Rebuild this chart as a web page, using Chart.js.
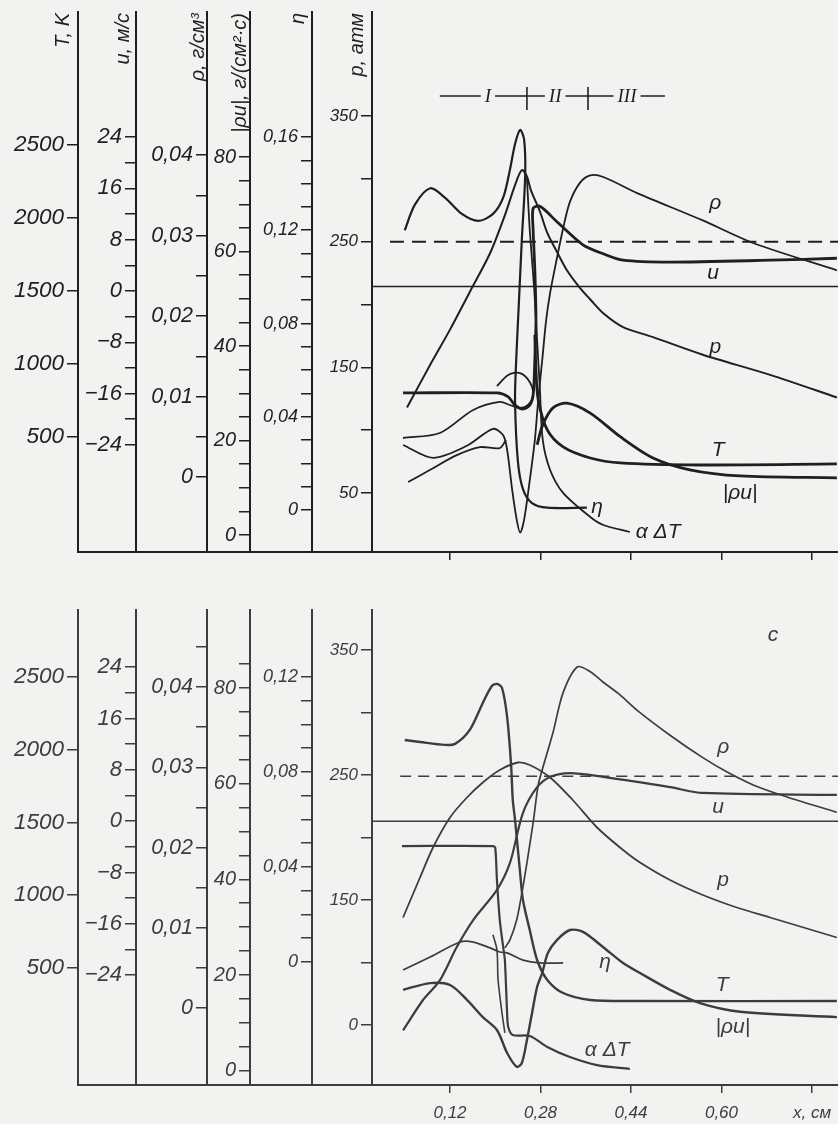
<!DOCTYPE html>
<html>
<head>
<meta charset="utf-8">
<script src="https://cdn.jsdelivr.net/npm/chart.js@4.4.1/dist/chart.umd.min.js"></script>
<style>
  html, body { margin: 0; padding: 0; background: #f2f2f0; }
  #wrap { position: relative; width: 838px; height: 1124px; overflow: hidden; }
  canvas { position: absolute; left: 0; }
  #top { top: 0; }
  #bottom { top: 575px; }
</style>
</head>
<body>
<div id="wrap">
  <canvas id="top" width="838" height="575"></canvas>
  <canvas id="bottom" width="838" height="549"></canvas>
</div>
<script>
// x axis (x, cm)
const xTicks = [0.12, 0.28, 0.44, 0.60, 0.76];
const xTickLabels = ['0,12', '0,28', '0,44', '0,60', 'x, см'];

// left axes ticks
const tTicks = [500, 1000, 1500, 2000, 2500];
const uTicks = [-24, -20, -16, -12, -8, -4, 0, 4, 8, 12, 16, 20, 24];
const uLabeled = [-24, -16, -8, 0, 8, 16, 24];
const rhoTicksTop = [0, 0.005, 0.01, 0.015, 0.02, 0.025, 0.03, 0.035, 0.04];
const rhoTicksBot = [0, 0.005, 0.01, 0.015, 0.02, 0.025, 0.03, 0.035, 0.04, 0.045];
const rhoLabeled = [0, 0.01, 0.02, 0.03, 0.04];
const ruTicksTop = [0, 5, 10, 15, 20, 25, 30, 35, 40, 45, 50, 55, 60, 65, 70, 75, 80];
const ruTicksBot = [0, 5, 10, 15, 20, 25, 30, 35, 40, 45, 50, 55, 60, 65, 70, 75, 80, 85];
const ruLabeled = [0, 20, 40, 60, 80];
const etaTicksTop = [0, 0.01, 0.02, 0.03, 0.04, 0.05, 0.06, 0.07, 0.08, 0.09, 0.10, 0.11, 0.12, 0.13, 0.14, 0.15, 0.16];
const etaTicksBot = [0, 0.01, 0.02, 0.03, 0.04, 0.05, 0.06, 0.07, 0.08, 0.09, 0.10, 0.11, 0.12];
const etaLabeledTop = [0, 0.04, 0.08, 0.12, 0.16];
const etaLabeledBot = [0, 0.04, 0.08, 0.12];
const pTicks = [50, 100, 150, 200, 250, 300, 350];
const pLabeled = [50, 150, 250, 350];
const pLabelsTop = ['50', '150', '250', '350'];
const pLabelsBot = ['0', '150', '250', '350'];

// upper panel curves [x, value on own axis]
const topEta = [[0.040,0.120],[0.058,0.131],[0.085,0.138],[0.111,0.134],[0.141,0.127],[0.170,0.124],[0.196,0.127],[0.214,0.134],[0.226,0.146],[0.235,0.157],[0.244,0.163],[0.251,0.159],[0.253,0.144],[0.247,0.116],[0.242,0.090],[0.237,0.064],[0.235,0.047],[0.240,0.021],[0.249,0.009],[0.265,0.003],[0.292,0.001],[0.362,0.001]];
const topP = [[0.044,118],[0.085,152],[0.120,180],[0.155,210],[0.191,241],[0.217,271],[0.235,295],[0.247,307],[0.256,302],[0.263,291],[0.279,274],[0.292,257],[0.309,242],[0.327,227],[0.350,213],[0.368,204],[0.391,193],[0.426,182],[0.479,174],[0.567,160],[0.686,144],[0.804,126]];
const topU = [[0.037,-15.9],[0.203,-15.9],[0.223,-16.5],[0.235,-17.8],[0.249,-18.4],[0.261,-17.8],[0.267,-16.2],[0.270,-10.7],[0.272,-4.5],[0.270,3.3],[0.267,9.5],[0.267,12.9],[0.279,13.2],[0.309,10.8],[0.355,7.2],[0.391,5.8],[0.426,4.8],[0.509,4.5],[0.686,4.8],[0.804,5.1]];
const topDT = [[0.256,2274],[0.261,1918],[0.269,1507],[0.274,1164],[0.279,822],[0.284,480],[0.297,274],[0.320,117],[0.368,-48],[0.391,-103],[0.438,-151]];
const topTLeft = [[0.037,493],[0.102,527],[0.161,685],[0.208,740],[0.226,719],[0.244,699],[0.258,719],[0.267,788],[0.261,877],[0.244,938],[0.223,925],[0.203,849]];
const topTRight = [[0.270,1199],[0.272,959],[0.276,754],[0.292,548],[0.320,432],[0.368,356],[0.421,322],[0.562,308],[0.804,315]];
const topRULeft = [[0.046,11.2],[0.085,13.8],[0.132,16.9],[0.173,18.6],[0.208,18.4],[0.219,20.1]];
const topRURight = [[0.274,19.1],[0.284,23.3],[0.302,26.9],[0.327,27.9],[0.368,25.8],[0.421,20.8],[0.479,16.3],[0.544,13.8],[0.633,12.5],[0.804,12.1]];
const topRho = [[0.037,0.0040],[0.090,0.0024],[0.150,0.0039],[0.196,0.0060],[0.214,0.0052],[0.221,0.0034],[0.230,-0.0016],[0.238,-0.0053],[0.244,-0.0069],[0.251,-0.0053],[0.261,-0.0004],[0.270,0.0046],[0.276,0.0096],[0.283,0.0145],[0.290,0.0195],[0.297,0.0229],[0.309,0.0272],[0.320,0.0309],[0.332,0.0342],[0.350,0.0366],[0.368,0.0375],[0.391,0.0373],[0.451,0.0353],[0.567,0.0319],[0.656,0.0291],[0.804,0.0257]];
const topDashP = [[0.014,250],[0.806,250]];
const topZeroU = [[-0.018,0.7],[0.806,0.7]];

// lower panel curves
const botT = [[0.040,2067],[0.067,2053],[0.111,2033],[0.129,2040],[0.155,2136],[0.178,2321],[0.194,2438],[0.203,2452],[0.212,2424],[0.221,2225],[0.228,1895],[0.231,1655],[0.235,1517],[0.244,1153],[0.249,967],[0.261,761],[0.274,555],[0.292,418],[0.320,328],[0.368,280],[0.456,273],[0.804,273]];
const botDT = [[0.035,1338],[0.196,1338],[0.200,1325],[0.203,1105],[0.208,830],[0.214,644],[0.217,555],[0.221,191],[0.223,95],[0.231,39],[0.261,33],[0.292,-43],[0.332,-112],[0.380,-167],[0.438,-194]];
const botP = [[0.037,136],[0.067,168],[0.090,192],[0.120,216],[0.150,232],[0.178,244],[0.208,254],[0.240,260],[0.261,258],[0.297,248],[0.337,230],[0.380,208],[0.426,190],[0.456,180],[0.509,166],[0.567,154],[0.627,144],[0.686,136],[0.804,120]];
const botEta = [[0.037,-0.0034],[0.085,0.0021],[0.138,0.0084],[0.161,0.0084],[0.191,0.0059],[0.208,0.0042],[0.221,0.0038],[0.249,0.0008],[0.279,-0.0004],[0.320,-0.0004]];
const botRho = [[0.217,0.0075],[0.226,0.0085],[0.238,0.0110],[0.247,0.0143],[0.256,0.0181],[0.267,0.0231],[0.276,0.0278],[0.284,0.0299],[0.302,0.0343],[0.320,0.0393],[0.345,0.0425],[0.368,0.0419],[0.391,0.0406],[0.421,0.0390],[0.451,0.0371],[0.509,0.0340],[0.567,0.0312],[0.610,0.0294],[0.656,0.0278],[0.716,0.0263],[0.804,0.0244]];
const botU = [[0.037,-32.6],[0.072,-27.9],[0.102,-24.8],[0.132,-19.6],[0.161,-15.4],[0.203,-10.7],[0.226,-6.5],[0.249,1.3],[0.274,5.3],[0.297,6.9],[0.332,7.5],[0.391,6.9],[0.509,5.3],[0.567,4.4],[0.804,4.1]];
const botRUStub = [[0.196,28.4],[0.203,25.2],[0.205,19.0],[0.212,12.0],[0.217,7.9]];
const botRU = [[0.037,16.9],[0.085,18.3],[0.120,17.9],[0.150,14.8],[0.178,11.2],[0.203,8.5],[0.221,3.7],[0.238,0.8],[0.247,1.6],[0.256,6.4],[0.265,12.0],[0.274,17.5],[0.283,20.4],[0.293,24.6],[0.309,27.3],[0.332,29.4],[0.355,29.0],[0.391,25.8],[0.426,22.5],[0.456,20.4],[0.509,16.9],[0.562,14.1],[0.633,12.3],[0.804,11.2]];
const botDashP = [[0.032,249],[0.806,249]];
const botZeroU = [[-0.018,0],[0.806,0]];

// region marks above the upper panel
const regionNames = ['I', 'II', 'III'];
const regionCenters = [0.187, 0.306, 0.433];
const regionBounds = [0.256, 0.364];

const FONT = '"Liberation Sans", "DejaVu Sans", sans-serif';
const BG = '#f2f2f0';

function fmt(v) {
  return (Math.round(v * 1000) / 1000).toString().replace('.', ',').replace('-', '\u2212');
}

function yAxis(o) {
  return {
    type: 'linear', position: 'left', weight: o.weight, min: o.min, max: o.max,
    afterFit: s => { s.width = o.width; s.paddingTop = 0; s.paddingBottom = 0; },
    afterBuildTicks: s => { s.ticks = o.ticks.map(v => ({ value: v })); },
    grid: { drawOnChartArea: false, color: o.ink, lineWidth: 1.5, tickLength: 11 },
    border: { display: true, color: o.ink, width: 2 },
    ticks: {
      autoSkip: false, padding: 3, color: o.ink,
      font: { family: FONT, size: o.size, style: 'italic' },
      callback: v => {
        const i = o.labeled.findIndex(l => Math.abs(l - v) < 1e-9);
        if (i < 0) return '';
        return o.texts ? o.texts[i] : fmt(v);
      }
    }
  };
}

function line(data, axis, width, color, dash) {
  return {
    data: data.map(([x, y]) => ({ x, y })),
    yAxisID: axis, borderColor: color, borderWidth: width, borderDash: dash || [],
    pointRadius: 0, tension: 0.3, fill: false, spanGaps: false
  };
}

function annotations(cfg) {
  return {
    id: 'annot',
    afterDraw(chart) {
      const ctx = chart.ctx, s = chart.scales, ca = chart.chartArea;
      ctx.save();
      ctx.strokeStyle = cfg.ink;
      ctx.fillStyle = cfg.ink;
      ctx.lineWidth = 2;
      ctx.beginPath();
      ctx.moveTo(s.yT.right - 1, ca.bottom);
      ctx.lineTo(ca.left, ca.bottom);
      ctx.stroke();

      ctx.font = 'italic 20px ' + FONT;
      (cfg.titles || []).forEach(([text, id, dx]) => {
        ctx.save();
        ctx.translate(s[id].right + dx, ca.top + 1);
        ctx.rotate(-Math.PI / 2);
        ctx.textAlign = 'right';
        ctx.textBaseline = 'middle';
        ctx.fillText(text, 0, 0);
        ctx.restore();
      });

      ctx.font = 'italic 21px ' + FONT;
      ctx.textAlign = 'center';
      ctx.textBaseline = 'middle';
      cfg.labels.forEach(([t, xv, pv]) => {
        ctx.fillText(t, s.x.getPixelForValue(xv), s.p.getPixelForValue(pv));
      });

      if (cfg.regions) {
        const y = s.p.getPixelForValue(366);
        const px = v => s.x.getPixelForValue(v);
        ctx.lineWidth = 1.6;
        ctx.beginPath();
        ctx.moveTo(px(0.102), y);
        ctx.lineTo(px(0.500), y);
        regionBounds.forEach(b => { ctx.moveTo(px(b), y - 9); ctx.lineTo(px(b), y + 14); });
        ctx.stroke();
        ctx.font = 'italic 19px "Liberation Serif", serif';
        regionNames.forEach((t, i) => {
          const cx = px(regionCenters[i]);
          const w = ctx.measureText(t).width;
          ctx.fillStyle = BG;
          ctx.fillRect(cx - w / 2 - 4, y - 10, w + 8, 20);
          ctx.fillStyle = cfg.ink;
          ctx.fillText(t, cx, y + 1);
        });
      }
      ctx.restore();
    }
  };
}

function panel(canvasId, p) {
  const widths = [78, 58, 71, 43, 62, 60];
  return new Chart(document.getElementById(canvasId), {
    type: 'line',
    data: { datasets: p.datasets },
    options: {
      responsive: false, animation: false, events: [],
      layout: { padding: { top: p.top, left: 0, right: 0, bottom: 0 } },
      plugins: { legend: { display: false }, tooltip: { enabled: false } },
      scales: {
        x: {
          type: 'linear', position: 'bottom', min: -0.0179, max: 0.806,
          afterFit: s => { s.height = p.xHeight; s.paddingLeft = 0; s.paddingRight = 0; },
          afterBuildTicks: s => { s.ticks = xTicks.map(v => ({ value: v })); },
          grid: { drawOnChartArea: false, color: p.ink, lineWidth: 1.5, tickLength: 8 },
          border: { display: true, color: p.ink, width: 2 },
          ticks: {
            autoSkip: false, maxRotation: 0, padding: 10, color: p.ink,
            font: { family: FONT, size: 17, style: 'italic' },
            callback: (v, i) => p.xLabels ? xTickLabels[i] : ''
          }
        },
        yT: yAxis({ weight: 6, width: widths[0], min: p.range.yT[0], max: p.range.yT[1], ticks: tTicks, labeled: tTicks, size: 22.5, ink: p.ink }),
        yU: yAxis({ weight: 5, width: widths[1], min: p.range.yU[0], max: p.range.yU[1], ticks: uTicks, labeled: uLabeled, size: 22, ink: p.ink }),
        yRho: yAxis({ weight: 4, width: widths[2], min: p.range.yRho[0], max: p.range.yRho[1], ticks: p.rhoTicks, labeled: rhoLabeled, size: 21.5, ink: p.ink }),
        yRU: yAxis({ weight: 3, width: widths[3], min: p.range.yRU[0], max: p.range.yRU[1], ticks: p.ruTicks, labeled: ruLabeled, size: 20, ink: p.ink }),
        yEta: yAxis({ weight: 2, width: widths[4], min: p.range.yEta[0], max: p.range.yEta[1], ticks: p.etaTicks, labeled: p.etaLabeled, size: 18, ink: p.ink }),
        p: yAxis({ weight: 1, width: widths[5], min: p.range.p[0], max: p.range.p[1], ticks: pTicks, labeled: pLabeled, texts: p.pTexts, size: 17, ink: p.ink })
      }
    },
    plugins: [annotations({ ink: p.ink, titles: p.titles, labels: p.labels, regions: p.regions })]
  });
}

const inkTop = '#1f1f1f';
const inkBot = '#3d3d3d';

panel('top', {
  top: 12, xHeight: 23, xLabels: false, ink: inkTop, regions: true,
  range: { yT: [-288, 3411], yU: [-40.7, 43.5], yRho: [-0.0093, 0.0578], yRU: [-3.6, 110.7], yEta: [-0.018, 0.2136], p: [3.0, 432.8] },
  rhoTicks: rhoTicksTop, ruTicks: ruTicksTop, etaTicks: etaTicksTop, etaLabeled: etaLabeledTop, pTexts: pLabelsTop,
  titles: [['T, K', 'yT', -15], ['u, м/с', 'yU', -13], ['ρ, г/см³', 'yRho', -9], ['|ρu|, г/(см²·с)', 'yRU', -10], ['η', 'yEta', -14], ['p, атм', 'p', -15]],
  labels: [['ρ', 0.589, 281], ['u', 0.585, 225], ['p', 0.589, 166], ['T', 0.594, 84], ['|ρu|', 0.633, 50], ['η', 0.380, 39], ['α ΔT', 0.488, 19]],
  datasets: [
    line(topDashP, 'p', 2, inkTop, [14, 8]),
    line(topZeroU, 'yU', 1.6, inkTop),
    line(topEta, 'yEta', 2.2, inkTop),
    line(topP, 'p', 2, inkTop),
    line(topU, 'yU', 2.8, inkTop),
    line(topDT, 'yT', 1.8, inkTop),
    line(topTLeft, 'yT', 1.8, inkTop),
    line(topTRight, 'yT', 2.8, inkTop),
    line(topRULeft, 'yRU', 1.8, inkTop),
    line(topRURight, 'yRU', 2.8, inkTop),
    line(topRho, 'yRho', 1.8, inkTop)
  ]
});

panel('bottom', {
  top: 35, xHeight: 39, xLabels: true, ink: inkBot, regions: false,
  range: { yT: [-304, 2960], yU: [-41.1, 32.9], yRho: [-0.00959, 0.0496], yRU: [-3.0, 96.3], yEta: [-0.0518, 0.1482], p: [2, 382] },
  rhoTicks: rhoTicksBot, ruTicks: ruTicksBot, etaTicks: etaTicksBot, etaLabeled: etaLabeledBot, pTexts: pLabelsBot,
  titles: [],
  labels: [['c', 0.691, 362], ['ρ', 0.603, 272], ['u', 0.594, 224], ['p', 0.603, 166], ['T', 0.601, 82], ['|ρu|', 0.620, 48], ['η', 0.394, 100], ['α ΔT', 0.398, 30]],
  datasets: [
    line(botDashP, 'p', 1.6, inkBot, [11, 7]),
    line(botZeroU, 'yU', 1.5, inkBot),
    line(botT, 'yT', 2.4, inkBot),
    line(botDT, 'yT', 2.2, inkBot),
    line(botP, 'p', 1.8, inkBot),
    line(botEta, 'yEta', 1.8, inkBot),
    line(botRho, 'yRho', 1.7, inkBot),
    line(botU, 'yU', 2.2, inkBot),
    line(botRUStub, 'yRU', 1.6, inkBot),
    line(botRU, 'yRU', 2.4, inkBot)
  ]
});
</script>
</body>
</html>
